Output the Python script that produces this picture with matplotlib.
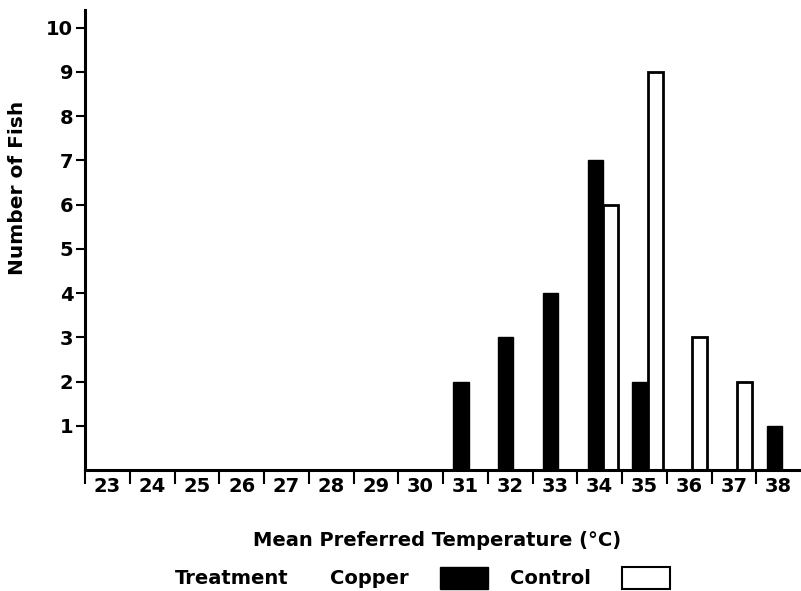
import matplotlib.pyplot as plt
from matplotlib.patches import Patch

# data
temps = list(range(23, 39))
copper_temps = [31, 32, 33, 34, 35, 38]
copper_counts = [2, 3, 4, 7, 2, 1]
control_temps = [34, 35, 36, 37]
control_counts = [6, 9, 3, 2]

plt.rcParams['font.family'] = ['DejaVu Sans']
plt.rcParams['font.weight'] = 'bold'

fig = plt.figure(figsize=(8.01, 5.91), dpi=100)
ax = fig.add_axes([85 / 801, 121 / 591, 716 / 801, 460 / 591])

w = 0.34
ax.bar([t - 0.1 for t in copper_temps], copper_counts, width=w,
       color='black', edgecolor='black', linewidth=1.0)
ax.bar([t + 0.24 for t in control_temps], control_counts, width=w,
       color='white', edgecolor='black', linewidth=2.0)

ax.set_xlim(22.5, 38.5)
ax.set_ylim(0, 10.4)

for s in ['top', 'right']:
    ax.spines[s].set_visible(False)
ax.spines['left'].set_linewidth(2.2)
ax.spines['bottom'].set_linewidth(2.2)

# y ticks
ax.set_yticks(range(1, 11))
ax.tick_params(axis='y', direction='out', length=6.5, width=1.5,
               labelsize=14, pad=2)

# x ticks: marks at bin edges, labels at bin centres
ax.set_xticks([t - 0.5 for t in temps])
ax.set_xticklabels([])
ax.tick_params(axis='x', which='major', direction='out', length=10, width=1.5)
ax.set_xticks(temps, minor=True)
ax.set_xticklabels([str(t) for t in temps], minor=True)
ax.tick_params(axis='x', which='minor', length=0, labelsize=14, pad=5)
for lab in ax.get_yticklabels() + ax.get_xticklabels(minor=True):
    lab.set_fontweight('bold')

fig.text(18 / 801, 1 - 188 / 591, 'Number of Fish', rotation=90,
         ha='center', va='center', fontsize=14.5, fontweight='bold')
fig.text(437 / 801, 1 - 540 / 591, 'Mean Preferred Temperature (°C)',
         ha='center', va='center', fontsize=14, fontweight='bold')
fig.text(232 / 801, 1 - 578 / 591, 'Treatment',
         ha='center', va='center', fontsize=14, fontweight='bold')

handles = [Patch(facecolor='black', edgecolor='black'),
           Patch(facecolor='white', edgecolor='black', linewidth=1.5)]
fig.legend(handles, ['Copper', 'Control'], ncol=2, markerfirst=False,
           frameon=False, loc='center left',
           bbox_to_anchor=(330 / 801, 1 - 578 / 591),
           prop={'weight': 'bold', 'size': 14},
           handlelength=2.5, handleheight=1.4, columnspacing=1.1,
           handletextpad=1.6, borderpad=0, borderaxespad=0)

fig.savefig('out.png', dpi=100)
